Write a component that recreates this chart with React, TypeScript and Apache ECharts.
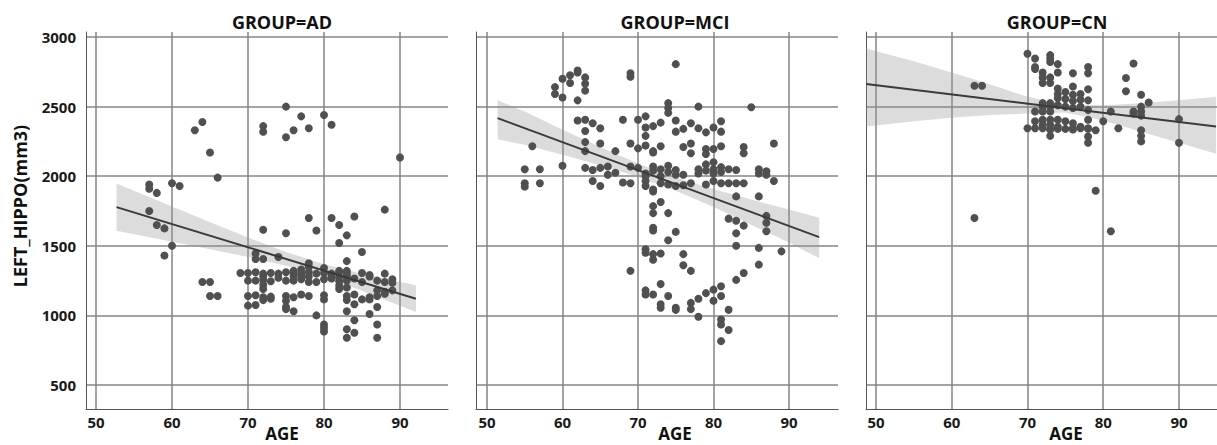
import React, { useEffect, useRef } from "react";
import * as echarts from "echarts";

const groupTitles = ["GROUP=AD", "GROUP=MCI", "GROUP=CN"];
const xTicks = [50, 60, 70, 80, 90];
const yTicks = [500, 1000, 1500, 2000, 2500, 3000];

const adPoints: [number, number][] = [
  [57,1940],[57,1910],[58,1880],[60,1950],[61,1930],[57,1750],[58,1650],[59,1625],[60,1500],[59,1430],
  [63,2330],[64,2390],[65,2170],[66,1990],[64,1240],[65,1240],[65,1140],[66,1140],
  [72,2360],[72,2320],[75,2500],[75,2280],[76,2330],[77,2430],[78,2345],[80,2440],[81,2370],[90,2135],
  [78,1700],[81,1700],[84,1710],[88,1760],[72,1615],[75,1590],[79,1610],[82,1650],[83,1575],[82,1520],[85,1455],[83,1390],
  [71,1445],[71,1405],[72,1405],[74,1420],[78,1375],[78,1350],[80,1340],
  [69,1305],[70,1305],[71,1310],[72,1300],[73,1305],[74,1300],[75,1310],[76,1300],[77,1305],[78,1310],[79,1300],[80,1305],[81,1300],[82,1310],[83,1300],[85,1305],[86,1290],[88,1300],[89,1260],
  [76,1320],[77,1330],[82,1320],[83,1320],
  [70,1250],[71,1250],[72,1255],[73,1245],[75,1250],[76,1250],[77,1260],[78,1240],[79,1240],[80,1260],[81,1265],[82,1245],[83,1250],[84,1265],[85,1240],[87,1250],[88,1240],[89,1235],
  [72,1280],[74,1270],[76,1280],[77,1285],[78,1280],[81,1280],[82,1275],[83,1280],[86,1280],
  [72,1190],[82,1190],[83,1200],[87,1180],[88,1170],[89,1180],[72,1220],[82,1215],
  [70,1140],[71,1145],[72,1130],[73,1135],[75,1140],[76,1130],[77,1150],[78,1140],[80,1145],[83,1140],[84,1150],[86,1130],[87,1140],[88,1155],
  [72,1110],[73,1120],[75,1105],[80,1115],[83,1110],[85,1115],[86,1115],
  [70,1070],[71,1075],[75,1060],[75,1045],[76,1030],[84,1080],[87,1060],[83,1030],
  [79,1000],[86,1010],[80,935],[80,910],[80,885],[83,900],[83,840],[84,965],[84,875],[87,935],[87,840]
];

const mciPoints: [number, number][] = [
  [75,2805],[69,2740],[69,2715],
  [59,2640],[59,2590],[60,2700],[60,2565],[61,2725],[61,2670],[62,2760],[62,2745],[62,2545],[63,2710],[63,2665],[63,2615],
  [74,2525],[74,2490],[74,2455],[78,2500],[85,2495],
  [62,2400],[63,2405],[64,2380],[65,2345],[68,2405],[70,2405],[71,2430],[72,2360],[73,2385],[75,2400],[76,2340],[77,2380],[78,2345],[79,2315],[80,2350],[81,2395],[81,2320],[75,2320],
  [63,2325],[71,2350],[71,2290],
  [56,2215],[63,2245],[65,2235],[69,2235],[70,2200],[71,2220],[72,2180],[73,2215],[76,2210],[77,2165],[79,2195],[79,2160],[80,2195],[81,2215],[84,2210],[84,2165],[88,2235],[77,2235],[72,2170],
  [63,2180],[67,2180],
  [55,2050],[57,2050],[60,2075],[63,2060],[64,2045],[65,2060],[66,2070],[67,2025],[69,2070],[70,2060],[71,2020],[72,2070],[73,2050],[74,2075],[75,2010],[76,2010],[78,2050],[79,2085],[80,2050],[79,2040],[81,2065],[82,2050],[83,2045],[86,2050],[87,2035],[86,2020],[87,2010],
  [80,2100],[80,2020],[81,2030],[71,2000],[72,2040],[73,2000],[74,2030],[78,2020],[75,2045],
  [55,1950],[55,1925],[57,1950],[64,1965],[65,1930],[66,2010],[68,1955],[69,1950],[71,1965],[71,1930],[72,1905],[73,1950],[74,1940],[75,1930],[76,1935],[77,1950],[79,1940],[80,1965],[81,1950],[82,1950],[83,1950],[84,1950],[88,1965],[83,1855],[86,1855],
  [72,1890],[72,1785],[72,1735],[73,1815],[74,1735],[72,1630],[72,1610],[75,1600],[74,1540],
  [82,1695],[83,1680],[84,1645],[83,1590],[87,1715],[87,1665],[87,1605],[83,1500],[86,1485],[89,1460],[86,1365],[84,1305],[83,1255],
  [71,1475],[71,1450],[72,1440],[72,1400],[73,1445],[76,1440],[76,1360],[77,1320],[69,1320],
  [73,1225],[71,1180],[71,1150],[72,1150],[73,1080],[73,1055],[74,1140],[75,1055],[75,1040],[77,1090],[77,1045],[78,1120],[78,990],[79,1160],[80,1185],[80,1105],[81,1210],[81,1140],[82,1040],[81,970],[81,935],[82,895],[81,815]
];

const cnPoints: [number, number][] = [
  [70,2880],[71,2845],[71,2785],[71,2770],[73,2870],[73,2845],[73,2820],[74,2805],[74,2745],[72,2745],[72,2710],[72,2670],[73,2710],[73,2670],[76,2740],[78,2785],[78,2740],[84,2810],[83,2705],[83,2610],[85,2585],[86,2530],
  [74,2630],[74,2590],[75,2605],[76,2645],[76,2585],[77,2590],[78,2625],[78,2545],
  [75,2555],[76,2540],[77,2550],[74,2560],
  [71,2465],[72,2525],[72,2500],[72,2465],[73,2525],[73,2500],[73,2465],[74,2510],[75,2500],[76,2490],[77,2500],[78,2475],[81,2465],[84,2465],[85,2500],[85,2465],[85,2435],[80,2395],[82,2345],[90,2410],[84,2450],
  [71,2395],[72,2405],[72,2370],[73,2405],[73,2370],[73,2335],[74,2405],[74,2355],[75,2395],[76,2380],[76,2345],[77,2355],[78,2405],[78,2345],[79,2330],
  [70,2345],[71,2345],[72,2345],[73,2340],[74,2340],[75,2340],[76,2335],[77,2345],[78,2340],
  [73,2290],[78,2285],[78,2240],[85,2330],[85,2290],[85,2250],[90,2240],
  [63,2650],[64,2650],[79,1895],[63,1700],[81,1605]
];

const adFit: [number, number][] = [[52.7,1778],[92.1,1120]];
const mciFit: [number, number][] = [[51.4,2417],[94,1562]];
const cnFit: [number, number][] = [[48.7,2662],[94.9,2357]];

const adBandAges = [52.7, 60, 65, 70, 75, 80, 85, 92.1];
const adBandUpper = [1948, 1782, 1670, 1559, 1456, 1368, 1300, 1217];
const adBandLower = [1608, 1530, 1476, 1419, 1356, 1276, 1178, 1025];

const mciBandAges = [51.4, 55, 60, 65, 70, 75, 80, 85, 90, 94];
const mciBandUpper = [2545, 2464, 2334, 2209, 2091, 1991, 1908, 1832, 1761, 1702];
const mciBandLower = [2265, 2226, 2154, 2079, 1995, 1895, 1778, 1652, 1523, 1410];

const cnBandAges = [48.7, 55, 60, 65, 70, 75, 80, 85, 90, 94.9];
const cnBandUpper = [2917, 2825, 2745, 2660, 2570, 2515, 2510, 2525, 2545, 2571];
const cnBandLower = [2357, 2395, 2420, 2440, 2450, 2458, 2400, 2320, 2240, 2162];

const panels = [
  { points: adPoints, fit: adFit, bandAges: adBandAges, bandUpper: adBandUpper, bandLower: adBandLower, left: 86, width: 362, xMin: 48.68, xMax: 96.32 },
  { points: mciPoints, fit: mciFit, bandAges: mciBandAges, bandUpper: mciBandUpper, bandLower: mciBandLower, left: 476, width: 362, xMin: 48.54, xMax: 96.49 },
  { points: cnPoints, fit: cnFit, bandAges: cnBandAges, bandUpper: cnBandUpper, bandLower: cnBandLower, left: 866, width: 351, xMin: 48.68, xMax: 95.02 },
];

const titleX = [282, 675, 1057];
const ageX = [282, 675, 1066];

const FONT = "'Open Sans', 'DejaVu Sans', sans-serif";
const GRID_COLOR = "#858585";

export default function App() {
  const ref = useRef<HTMLDivElement>(null);
  useEffect(() => {
    if (!ref.current) return;
    const chart = echarts.init(ref.current, undefined, { renderer: "svg" });
    const grid: any[] = [];
    const xAxis: any[] = [];
    const yAxis: any[] = [];
    const series: any[] = [];
    panels.forEach((p, i) => {
      grid.push({ left: p.left, top: 32, width: p.width, height: 377 });
      xAxis.push({
        type: "value", gridIndex: i, min: p.xMin, max: p.xMax,
        axisLine: { show: true, onZero: false, lineStyle: { color: "#555", width: 1 } },
        axisTick: { show: false, customValues: xTicks },
        axisLabel: { customValues: xTicks, formatter: (v: number) => String(v), fontFamily: FONT, fontWeight: "bold", fontSize: 15, color: "#1a1a1a", margin: 5 },
        splitLine: { show: true, lineStyle: { color: GRID_COLOR, width: 1.5 } },
      });
      yAxis.push({
        type: "value", gridIndex: i, min: 327.6, max: 3036,
        axisLine: { show: true, onZero: false, lineStyle: { color: "#555", width: 1 } },
        axisTick: { show: false, customValues: yTicks },
        axisLabel: { show: i === 0, customValues: yTicks, formatter: (v: number) => String(v), fontFamily: FONT, fontWeight: "bold", fontSize: 15, color: "#1a1a1a", margin: 10 },
        splitLine: { show: true, lineStyle: { color: GRID_COLOR, width: 1.5 } },
      });
      const ages = p.bandAges, up = p.bandUpper, lo = p.bandLower;
      series.push({
        type: "custom", xAxisIndex: i, yAxisIndex: i, silent: true, z: 1,
        data: [[ages[0], lo[0]]],
        renderItem: (_params: any, api: any) => {
          const pts: number[][] = [];
          for (let k = 0; k < ages.length; k++) pts.push(api.coord([ages[k], up[k]]));
          for (let k = ages.length - 1; k >= 0; k--) pts.push(api.coord([ages[k], lo[k]]));
          return { type: "polygon", shape: { points: pts }, style: { fill: "rgba(150,150,150,0.33)" } };
        },
      });
      series.push({
        type: "scatter", xAxisIndex: i, yAxisIndex: i, z: 3,
        data: p.points, symbolSize: 8,
        itemStyle: { color: "#505050", opacity: 1 },
      });
      series.push({
        type: "line", xAxisIndex: i, yAxisIndex: i, z: 4,
        data: p.fit, symbol: "none",
        lineStyle: { color: "#3a3a3a", width: 2 },
      });
    });
    const graphic: any[] = [];
    groupTitles.forEach((t, i) => {
      graphic.push({ type: "text", x: titleX[i], y: 22, style: { text: t, font: `bold 18px ${FONT}`, fill: "#111", textAlign: "center", textVerticalAlign: "middle" } });
      graphic.push({ type: "text", x: ageX[i], y: 433, style: { text: "AGE", font: `bold 17px ${FONT}`, fill: "#111", textAlign: "center", textVerticalAlign: "middle" } });
    });
    graphic.push({ type: "text", x: 20, y: 206, rotation: Math.PI / 2, style: { text: "LEFT_HIPPO(mm3)", font: `bold 18px ${FONT}`, fill: "#111", textAlign: "center", textVerticalAlign: "middle" } });
    chart.setOption({ animation: false, backgroundColor: "#fff", grid, xAxis, yAxis, series, graphic });
    return () => chart.dispose();
  }, []);
  return <div ref={ref} style={{ position: "absolute", left: 0, top: 0, width: 1217, height: 445 }} />;
}
